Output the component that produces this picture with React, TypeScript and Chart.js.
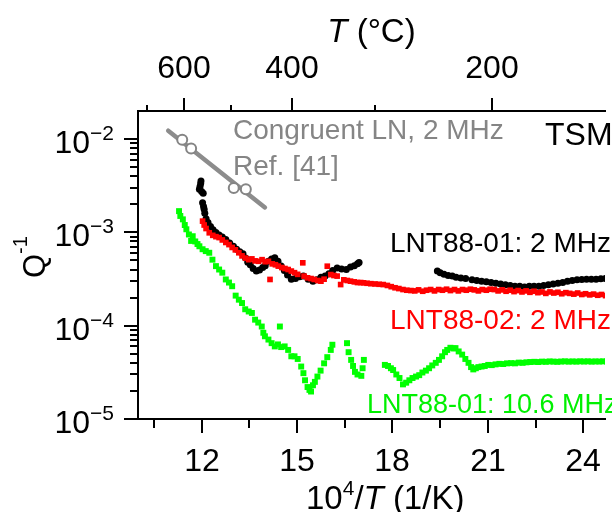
import React, { useEffect, useRef } from 'react';
import { Chart, registerables } from 'chart.js';

Chart.register(...registerables);

const X_MIN = 10;
const X_MAX = 24.68;
const Y_MIN = 1e-5;
const Y_MAX = 0.02;

const bottomTickValues = [10.5, 12, 13.5, 15, 16.5, 18, 19.5, 21, 22.5, 24];
const bottomTickLabels = ['', '12', '', '15', '', '18', '', '21', '', '24'];
const topTickCelsius = [700, 600, 500, 400, 300, 200];
const topTickLabels = ['', '600', '', '400', '', '200'];
const yDecades = [-5, -4, -3, -2];

// LNT88-01: 2 MHz (black circles)
const blackX = [11.98, 11.97, 11.95, 11.93, 12.0, 12.05, 12.03, 12.06, 12.08, 12.1, 12.14, 12.2, 12.28, 12.36, 12.45, 12.55, 12.65, 12.76, 12.88, 13.0, 13.1, 13.2, 13.3, 13.38, 13.45, 13.53, 13.62, 13.72, 13.82, 13.92, 14.0, 14.1, 14.2, 14.3, 14.4, 14.5, 14.6, 14.7, 14.82, 14.95, 15.08, 15.2, 15.35, 15.5, 15.62, 15.75, 15.88, 16.0, 16.12, 16.26, 16.4, 16.55, 16.68, 16.8, 16.9, 16.95,
  19.41, 19.5, 19.62, 19.75, 19.88, 20.0, 20.15, 20.3, 20.5, 20.65, 20.8, 20.95, 21.1, 21.25, 21.4, 21.55, 21.7, 21.85, 22.0, 22.15, 22.3, 22.45, 22.6, 22.75, 22.9, 23.05, 23.2, 23.35, 23.5, 23.65, 23.8, 23.95, 24.1, 24.25, 24.4, 24.55, 24.7];
const blackY = [3.56e-3, 3.35e-3, 3.1e-3, 2.9e-3, 2.75e-3, 2.62e-3, 2.08e-3, 1.9e-3, 1.77e-3, 1.6e-3, 1.4e-3, 1.28e-3, 1.16e-3, 1.07e-3, 1.0e-3, 9.4e-4, 8.9e-4, 8.4e-4, 7.7e-4, 7.1e-4, 6.6e-4, 6.2e-4, 5.9e-4, 5.3e-4, 4.8e-4, 4.5e-4, 4.1e-4, 3.85e-4, 3.95e-4, 4.2e-4, 4.4e-4, 4.9e-4, 5.2e-4, 5.35e-4, 4.9e-4, 4.35e-4, 3.9e-4, 3.5e-4, 3.15e-4, 3.2e-4, 3.35e-4, 3.4e-4, 3.15e-4, 3.0e-4, 3.1e-4, 3.3e-4, 3.4e-4, 3.6e-4, 3.9e-4, 4.15e-4, 4.05e-4, 4.0e-4, 4.25e-4, 4.4e-4, 4.6e-4, 4.75e-4,
  3.85e-4, 3.7e-4, 3.55e-4, 3.45e-4, 3.4e-4, 3.3e-4, 3.25e-4, 3.2e-4, 3.1e-4, 3.05e-4, 3.0e-4, 2.95e-4, 2.9e-4, 2.85e-4, 2.8e-4, 2.75e-4, 2.7e-4, 2.65e-4, 2.65e-4, 2.6e-4, 2.65e-4, 2.65e-4, 2.65e-4, 2.7e-4, 2.75e-4, 2.8e-4, 2.85e-4, 2.9e-4, 3.0e-4, 3.05e-4, 3.1e-4, 3.12e-4, 3.15e-4, 3.15e-4, 3.15e-4, 3.18e-4, 3.2e-4];

// LNT88-02: 2 MHz (red squares)
const redX = [12.03, 12.08, 12.14, 12.24, 12.35, 12.45, 12.55, 12.65, 12.76, 12.86, 12.96, 13.06, 13.17, 13.27, 13.38, 13.48, 13.58, 13.68, 13.79, 13.9, 14.0, 14.1, 14.15, 14.22, 14.32, 14.41, 14.52, 14.62, 14.72, 14.82, 14.92, 15.02, 15.18, 15.22, 15.33, 15.44, 15.54, 15.65, 15.75, 15.85, 15.95, 16.06, 16.16, 16.26, 16.37, 16.47, 16.58, 16.68, 16.8, 16.9, 17.0, 17.09, 17.2, 17.32, 17.45, 17.58, 17.71, 17.84, 17.96, 18.08, 18.2, 18.33, 18.45, 18.58, 18.7, 18.82, 18.95, 19.07, 19.2, 19.32, 19.45, 19.57, 19.7, 19.82, 19.95, 20.07, 20.2, 20.32, 20.45, 20.57, 20.7, 20.82, 20.95, 21.07, 21.2, 21.32, 21.45, 21.57, 21.7, 21.82, 21.95, 22.07, 22.2, 22.32, 22.45, 22.57, 22.7, 22.82, 22.95, 23.07, 23.2, 23.32, 23.45, 23.57, 23.7, 23.82, 23.95, 24.07, 24.2, 24.32, 24.45, 24.57, 24.7];
const redY = [1.32e-3, 1.2e-3, 1.1e-3, 9.9e-4, 9.3e-4, 9.0e-4, 8.8e-4, 8.3e-4, 7.8e-4, 7.4e-4, 6.9e-4, 6.5e-4, 6.05e-4, 5.6e-4, 5.3e-4, 5.1e-4, 5.2e-4, 4.95e-4, 4.9e-4, 5.1e-4, 4.85e-4, 4.9e-4, 3.13e-4, 4.6e-4, 4.5e-4, 4.35e-4, 4.2e-4, 4.1e-4, 4.0e-4, 3.85e-4, 3.7e-4, 3.55e-4, 4.72e-4, 3.4e-4, 3.26e-4, 3.2e-4, 3.13e-4, 3.05e-4, 3.0e-4, 3.15e-4, 4.34e-4, 3.53e-4, 3.45e-4, 3.4e-4, 2.76e-4, 3.1e-4, 3.05e-4, 3.0e-4, 2.95e-4, 2.9e-4, 2.9e-4, 2.88e-4, 2.85e-4, 2.82e-4, 2.8e-4, 2.78e-4, 2.76e-4, 2.7e-4, 2.62e-4, 2.55e-4, 2.5e-4, 2.44e-4, 2.4e-4, 2.38e-4, 2.36e-4, 2.42e-4, 2.34e-4, 2.4e-4, 2.44e-4, 2.36e-4, 2.44e-4, 2.4e-4, 2.46e-4, 2.38e-4, 2.44e-4, 2.36e-4, 2.44e-4, 2.4e-4, 2.46e-4, 2.42e-4, 2.36e-4, 2.44e-4, 2.4e-4, 2.46e-4, 2.44e-4, 2.36e-4, 2.42e-4, 2.34e-4, 2.4e-4, 2.32e-4, 2.38e-4, 2.3e-4, 2.36e-4, 2.28e-4, 2.34e-4, 2.26e-4, 2.3e-4, 2.22e-4, 2.3e-4, 2.24e-4, 2.28e-4, 2.2e-4, 2.26e-4, 2.22e-4, 2.18e-4, 2.24e-4, 2.16e-4, 2.2e-4, 2.14e-4, 2.18e-4, 2.12e-4, 2.16e-4, 2.1e-4];

// LNT88-01: 10.6 MHz (green squares)
const greenX = [11.29, 11.33, 11.41, 11.47, 11.52, 11.6, 11.67, 11.72, 11.8, 11.87, 11.93, 12.03, 12.13, 12.24, 12.34, 12.45, 12.55, 12.65, 12.76, 12.86, 12.96, 13.07, 13.17, 13.27, 13.37, 13.48, 13.58, 13.68, 13.78, 13.89, 13.94, 13.99, 14.1, 14.2, 14.3, 14.4, 14.46, 14.5, 14.61, 14.72, 14.82, 14.92, 15.02, 15.13, 15.2, 15.25, 15.33, 15.39, 15.44, 15.5, 15.56, 15.64, 15.74, 15.85, 15.95, 16.06, 16.11,
  16.57, 16.62, 16.7, 16.76, 16.82, 16.9, 17.02, 17.06, 17.1,
  17.76, 17.86, 17.95, 18.02, 18.12, 18.22, 18.33, 18.43, 18.53, 18.63, 18.74, 18.84, 18.94, 19.05, 19.15, 19.25, 19.36, 19.46, 19.56, 19.65, 19.72, 19.82, 19.92, 19.98, 20.08, 20.19, 20.29, 20.39, 20.47, 20.54, 20.62, 20.7, 20.8, 20.9, 21.01, 21.12, 21.24, 21.36, 21.48, 21.6, 21.73, 21.85, 21.97, 22.09, 22.21, 22.33, 22.46, 22.58, 22.7, 22.82, 22.94, 23.06, 23.18, 23.3, 23.42, 23.54, 23.66, 23.78, 23.9, 24.02, 24.14, 24.26, 24.38, 24.5, 24.62, 24.74];
const greenY = [1.69e-3, 1.5e-3, 1.38e-3, 1.2e-3, 1.08e-3, 9.5e-4, 8.1e-4, 9.1e-4, 8.0e-4, 7.5e-4, 7.1e-4, 6.6e-4, 6.3e-4, 6.05e-4, 5.1e-4, 4.35e-4, 4.0e-4, 3.7e-4, 3.13e-4, 2.9e-4, 2.65e-4, 2.1e-4, 1.9e-4, 1.75e-4, 1.5e-4, 1.42e-4, 1.37e-4, 1.16e-4, 1.08e-4, 9.8e-5, 8.4e-5, 7.7e-5, 7.1e-5, 6.5e-5, 6.0e-5, 6.3e-5, 9.8e-5, 5.9e-5, 6.0e-5, 5.5e-5, 4.7e-5, 4.7e-5, 4.4e-5, 3.65e-5, 3.1e-5, 2.6e-5, 2.2e-5, 2.05e-5, 1.97e-5, 2.3e-5, 2.5e-5, 2.85e-5, 3.3e-5, 3.95e-5, 4.6e-5, 5.5e-5, 6.25e-5,
  6.5e-5, 5.2e-5, 4.3e-5, 3.7e-5, 3.2e-5, 3.0e-5, 2.9e-5, 3.5e-5, 4.3e-5,
  3.8e-5, 3.7e-5, 3.5e-5, 3.35e-5, 3.0e-5, 2.75e-5, 2.35e-5, 2.45e-5, 2.6e-5, 2.75e-5, 2.85e-5, 2.95e-5, 3.15e-5, 3.3e-5, 3.5e-5, 3.75e-5, 4.0e-5, 4.3e-5, 4.7e-5, 5.2e-5, 5.5e-5, 5.8e-5, 5.7e-5, 5.75e-5, 5.3e-5, 4.9e-5, 4.4e-5, 4.0e-5, 3.6e-5, 3.4e-5, 3.5e-5, 3.6e-5, 3.65e-5, 3.7e-5, 3.8e-5, 3.78e-5, 3.85e-5, 3.9e-5, 3.88e-5, 3.95e-5, 3.97e-5, 3.95e-5, 4.02e-5, 4.0e-5, 4.05e-5, 4.08e-5, 4.1e-5, 4.08e-5, 4.12e-5, 4.1e-5, 4.14e-5, 4.12e-5, 4.1e-5, 4.13e-5, 4.15e-5, 4.12e-5, 4.14e-5, 4.12e-5, 4.15e-5, 4.13e-5, 4.15e-5, 4.12e-5, 4.14e-5, 4.13e-5, 4.15e-5, 4.13e-5];

// Congruent LN, 2 MHz, Ref. [41] (gray)
const refLineX = [10.95, 13.99];
const refLineY = [0.0123, 0.00185];
const refPointX = [11.39, 11.67, 13.01, 13.39];
const refPointY = [0.00982, 0.00794, 0.00299, 0.0029];

const FONT = '"Liberation Sans", Arial, Helvetica, sans-serif';
const GRAY = '#858585';

type Part = { text: string; size: number; italic?: boolean; dy?: number };

function drawParts(ctx: CanvasRenderingContext2D, parts: Part[], x: number, y: number, align: 'left' | 'center', color: string) {
  const widths = parts.map((p) => {
    ctx.font = `${p.italic ? 'italic ' : ''}${p.size}px ${FONT}`;
    return ctx.measureText(p.text).width;
  });
  const total = widths.reduce((a, b) => a + b, 0);
  let cx = align === 'center' ? x - total / 2 : x;
  ctx.fillStyle = color;
  ctx.textAlign = 'left';
  ctx.textBaseline = 'alphabetic';
  parts.forEach((p, i) => {
    ctx.font = `${p.italic ? 'italic ' : ''}${p.size}px ${FONT}`;
    ctx.fillText(p.text, cx, y + (p.dy || 0));
    cx += widths[i];
  });
}

const toPoints = (xs: number[], ys: number[]) => xs.map((x, i) => ({ x, y: ys[i] }));

const decorPlugin = {
  id: 'decor',
  afterDraw(chart: any) {
    const ctx: CanvasRenderingContext2D = chart.ctx;
    const area = chart.chartArea;
    const xs = chart.scales.x;
    const xt = chart.scales.xTop;
    const ys = chart.scales.y;
    ctx.save();
    ctx.strokeStyle = '#000';
    ctx.lineWidth = 2;
    ctx.lineCap = 'butt';
    const line = (x1: number, y1: number, x2: number, y2: number) => {
      ctx.beginPath();
      ctx.moveTo(x1, y1);
      ctx.lineTo(x2, y2);
      ctx.stroke();
    };
    // bottom ticks + labels
    xs.ticks.forEach((t: any) => {
      const px = Math.round(xs.getPixelForValue(t.value));
      line(px, area.bottom, px, area.bottom + (t.major ? 14 : 9));
      if (t.text) {
        drawParts(ctx, [{ text: t.text, size: 32 }], px, area.bottom + 52, 'center', '#000');
      }
    });
    // top ticks + labels
    xt.ticks.forEach((t: any) => {
      const px = Math.round(xt.getPixelForValue(t.value));
      line(px, area.top, px, area.top - (t.major ? 13 : 6));
      if (t.text) {
        drawParts(ctx, [{ text: t.text, size: 32 }], px, area.top - 33, 'center', '#000');
      }
    });
    // left ticks + labels
    ys.ticks.forEach((t: any) => {
      const py = Math.round(ys.getPixelForValue(t.value));
      line(area.left, py, area.left - (t.major ? 14 : 8), py);
      if (t.major) {
        const exp = `\u2212${Math.abs(t.exp)}`;
        ctx.font = `21px ${FONT}`;
        const ew = ctx.measureText(exp).width;
        ctx.font = `32px ${FONT}`;
        const bw = ctx.measureText('10').width;
        const right = area.left - 24;
        drawParts(ctx, [{ text: '10', size: 32 }], right - ew - bw, py + 14, 'left', '#000');
        drawParts(ctx, [{ text: exp, size: 21 }], right - ew, py + 1, 'left', '#000');
      }
    });
    // axis titles
    drawParts(ctx, [{ text: 'T', size: 33, italic: true }, { text: ' (\u00B0C)', size: 33 }], (area.left + area.right) / 2, 42, 'center', '#000');
    drawParts(ctx, [
      { text: '10', size: 33 },
      { text: '4', size: 21, dy: -14 },
      { text: '/', size: 33 },
      { text: 'T', size: 33, italic: true },
      { text: ' (1/K)', size: 33 },
    ], 306, 509, 'left', '#000');
    ctx.save();
    ctx.translate(45, 278);
    ctx.rotate(-Math.PI / 2);
    drawParts(ctx, [{ text: 'Q', size: 31 }, { text: '-1', size: 20, dy: -18 }], 0, 0, 'left', '#000');
    ctx.restore();
    // annotations
    drawParts(ctx, [{ text: 'Congruent LN, 2 MHz', size: 28 }], 233, 139, 'left', GRAY);
    drawParts(ctx, [{ text: 'Ref. [41]', size: 28 }], 233, 175, 'left', GRAY);
    drawParts(ctx, [{ text: 'TSM', size: 32 }], 545, 145, 'left', '#000');
    drawParts(ctx, [{ text: 'LNT88-01: 2 MHz', size: 28 }], 390, 252, 'left', '#000');
    drawParts(ctx, [{ text: 'LNT88-02: 2 MHz', size: 28 }], 390, 329, 'left', '#ff0000');
    drawParts(ctx, [{ text: 'LNT88-01: 10.6 MHz', size: 27 }], 367, 413, 'left', '#00f000');
    ctx.restore();
  },
};

export default function App() {
  const canvasRef = useRef<HTMLCanvasElement>(null);

  useEffect(() => {
    const canvas = canvasRef.current;
    if (!canvas) return;
    const chart = new Chart(canvas, {
      type: 'scatter',
      data: {
        datasets: [
          {
            label: 'LNT88-02: 2 MHz',
            data: toPoints(redX, redY),
            pointStyle: 'rect',
            pointRadius: 4,
            backgroundColor: '#ff0000',
            borderWidth: 0,
            order: 1,
          },
          {
            label: 'LNT88-01: 2 MHz',
            data: toPoints(blackX, blackY),
            pointStyle: 'circle',
            pointRadius: 3.5,
            backgroundColor: '#000000',
            borderWidth: 0,
            order: 2,
          },
          {
            label: 'LNT88-01: 10.6 MHz',
            data: toPoints(greenX, greenY),
            pointStyle: 'rect',
            pointRadius: 4.2,
            backgroundColor: '#00ff00',
            borderWidth: 0,
            order: 3,
          },
          {
            label: 'Congruent LN points',
            data: toPoints(refPointX, refPointY),
            pointStyle: 'circle',
            pointRadius: 5,
            backgroundColor: '#ffffff',
            borderColor: GRAY,
            borderWidth: 2,
            order: 4,
          },
          {
            label: 'Congruent LN fit',
            data: toPoints(refLineX, refLineY),
            showLine: true,
            borderColor: '#8c8c8c',
            borderWidth: 4.5,
            borderCapStyle: 'round',
            pointRadius: 0,
            order: 5,
          } as any,
        ],
      },
      options: {
        animation: false,
        responsive: false,
        devicePixelRatio: 1,
        events: [],
        layout: { padding: 0 },
        plugins: { legend: { display: false }, tooltip: { enabled: false } },
        scales: {
          x: {
            type: 'linear',
            position: 'bottom',
            min: X_MIN,
            max: X_MAX,
            grid: { display: false },
            border: { display: true, color: '#000', width: 2 },
            ticks: { display: false },
            afterBuildTicks: (s: any) => {
              s.ticks = bottomTickValues.map((v, i) => ({ value: v, text: bottomTickLabels[i], major: bottomTickLabels[i] !== '' }));
            },
            afterFit: (s: any) => { s.height = 93; },
          },
          xTop: {
            type: 'linear',
            position: 'top',
            min: X_MIN,
            max: X_MAX,
            grid: { display: false },
            border: { display: true, color: '#000', width: 2 },
            ticks: { display: false },
            afterBuildTicks: (s: any) => {
              s.ticks = topTickCelsius.map((c, i) => ({ value: 1e4 / (c + 273.15), text: topTickLabels[i], major: topTickLabels[i] !== '' }));
            },
            afterFit: (s: any) => { s.height = 111; },
          },
          y: {
            type: 'logarithmic',
            position: 'left',
            min: Y_MIN,
            max: Y_MAX,
            grid: { display: false },
            border: { display: true, color: '#000', width: 2 },
            ticks: { display: false },
            afterBuildTicks: (s: any) => {
              const ticks: any[] = [];
              yDecades.forEach((e) => {
                for (let m = 1; m <= 9; m++) {
                  const v = m * Math.pow(10, e);
                  if (v >= Y_MIN && v < Y_MAX) ticks.push({ value: v, major: m === 1, exp: e });
                }
              });
              s.ticks = ticks;
            },
            afterFit: (s: any) => { s.width = 138; },
          },
        },
      } as any,
      plugins: [decorPlugin],
    });
    return () => chart.destroy();
  }, []);

  return (
    <div style={{ position: 'absolute', left: 0, top: 0, width: 612, height: 512, overflow: 'hidden', background: '#ffffff' }}>
      <canvas ref={canvasRef} width={612} height={512} style={{ display: 'block', width: 612, height: 512 }} />
    </div>
  );
}
